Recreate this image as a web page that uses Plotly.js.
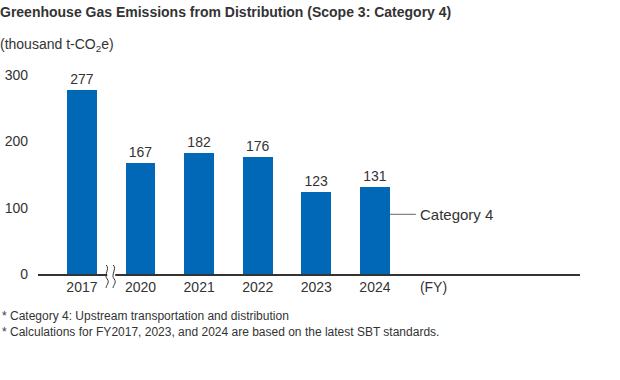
<!DOCTYPE html>
<html><head><meta charset="utf-8">
<script src="https://cdn.plot.ly/plotly-3.0.1.min.js"></script>
<style>body{margin:0;background:#fff}#c{width:620px;height:380px}</style>
</head><body><div id="c"></div>
<script>
const years = ["2017","2020","2021","2022","2023","2024"];
const values = [277,167,182,176,123,131];
const tickLabels = ["2017","2020","2021","2022","2023","2024","(FY)"];
const seriesName = "Category 4";
const yTicks = [0,100,200,300];

const xIdx = years.map((_, i) => i);
const font = "Arial, 'Liberation Sans', Helvetica, sans-serif";
const txt = "#333333";

const trace = {
  type: "bar", x: xIdx, y: values, width: 0.51,
  marker: {color: "#0068b7"},
  text: values.map(String), textposition: "outside",
  textfont: {size: 14, color: txt, family: font},
  cliponaxis: false, hoverinfo: "skip"
};

const last = xIdx.length - 1;
const layout = {
  width: 620, height: 380,
  margin: {l: 38, r: 40, t: 75, b: 106},
  paper_bgcolor: "#fff", plot_bgcolor: "#fff",
  font: {family: font, color: txt, size: 14},
  showlegend: false,
  bargap: 0,
  title: {text: "<b>Greenhouse Gas Emissions from Distribution (Scope 3: Category 4)</b>",
    x: 0, xref: "container", xanchor: "left", y: 1 - 12/380, yref: "container", yanchor: "middle",
    font: {size: 14, color: txt, family: font}},
  xaxis: {
    range: [-0.75, 8.5], tickmode: "array",
    tickvals: tickLabels.map((_, i) => i), ticktext: tickLabels,
    showgrid: false, zeroline: false, showline: true, linecolor: "#333", linewidth: 1.5,
    ticks: "", tickfont: {size: 14, color: txt}, fixedrange: true
  },
  yaxis: {
    range: [0, 300], tickmode: "array", tickvals: yTicks,
    showgrid: false, zeroline: false, showline: false, ticks: "",
    ticklabelstandoff: 9, tickfont: {size: 14, color: txt}, fixedrange: true
  },
  annotations: [
    {text: "(thousand t-CO<sub>2</sub>e)", xref: "paper", yref: "paper",
     x: -40/542, y: 1 + 30/199, xanchor: "left", yanchor: "middle", showarrow: false,
     font: {size: 14, color: txt}},
    {text: seriesName, xref: "x", yref: "y", x: last + 0.255, y: 90,
     showarrow: true, arrowhead: 0, arrowwidth: 1, arrowcolor: "#666",
     ax: 67, ay: 0, borderpad: 4, font: {size: 15, color: txt}},
    {text: "* Category 4: Upstream transportation and distribution<br>* Calculations for FY2017, 2023, and 2024 are based on the latest SBT standards.",
     xref: "paper", yref: "paper", x: -38/542, y: -(324 - 274)/199, xanchor: "left", yanchor: "middle",
     align: "left", showarrow: false, font: {size: 12, color: txt}}
  ],
  shapes: [
    {type: "rect", xref: "x", yref: "paper", xsizemode: "pixel", ysizemode: "pixel",
     xanchor: 0.5, yanchor: 0, x0: -4, x1: 4, y0: -3, y1: 3,
     fillcolor: "#fff", line: {width: 0}},
    {type: "path", xref: "x", yref: "paper", xsizemode: "pixel", ysizemode: "pixel",
     xanchor: 0.5, yanchor: 0,
     path: "M -5,9 C -1,5 -8,-1 -4,-5 C -1,-9 -6,-12 -5,-14",
     line: {color: "#333", width: 1}},
    {type: "path", xref: "x", yref: "paper", xsizemode: "pixel", ysizemode: "pixel",
     xanchor: 0.5, yanchor: 0,
     path: "M 2,9 C 6,5 -1,-1 3,-5 C 6,-9 1,-12 2,-14",
     line: {color: "#333", width: 1}}
  ]
};

Plotly.newPlot("c", [trace], layout, {displayModeBar: false, staticPlot: true});
</script></body></html>
